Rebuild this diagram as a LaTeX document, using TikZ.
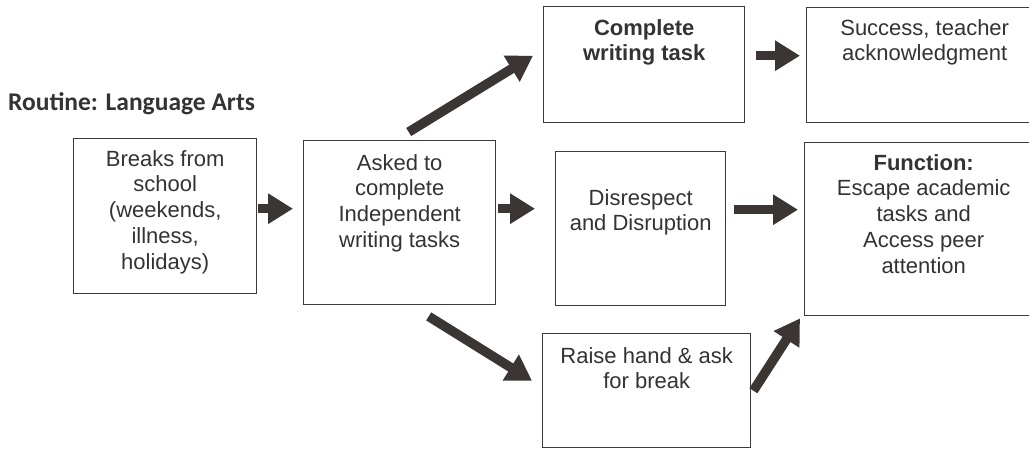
\documentclass[tikz,border=0pt]{standalone}
\usepackage{fontspec}
\setmainfont{Liberation Sans}
\newfontfamily\titlefont{Carlito}
\usetikzlibrary{arrows.meta,positioning}
\definecolor{ink}{HTML}{333333}
\definecolor{frame}{HTML}{3A3A3A}
\definecolor{arrowfill}{HTML}{3B3633}

\begin{document}
\begin{tikzpicture}[x=1pt,y=-1pt,
	box/.style 2 args={draw=frame, line width=1.4pt, minimum width=#1, minimum height=#2, inner sep=0pt, anchor=north west},
	txt/.style={text=ink, font=\fontsize{22}{25.8}\selectfont, align=center, anchor=north, inner sep=0pt},
	bigarrow/.style={draw=arrowfill, line width=9.5pt, -{Triangle[length=25pt,width=29pt]}}]
	\useasboundingbox[fill=white] (0,0) rectangle (1029,450);
	\node[anchor=base west, inner sep=0pt, text=ink, font=\titlefont\bfseries\fontsize{25.5}{30}\selectfont] (title) at (8,110) {Routine: Language Arts};
	% boxes
	\node[box={183pt}{155pt}] (breaks) at (73,138) {};
	\node[box={192pt}{164pt}] (asked) at (303,140) {};
	\node[box={201pt}{116pt}] (complete) at (543,6) {};
	\node[box={236pt}{115pt}] (success) at (806,7) {};
	\node[box={170pt}{154pt}] (disrupt) at (555,151) {};
	\node[box={238pt}{173pt}] (function) at (804,142) {};
	\node[box={208pt}{114pt}] (raise) at (542,333) {};
	% texts
	\node[txt] (breaks-t) at ([yshift=-12pt]breaks.north) {Breaks from\\school\\(weekends,\\illness,\\holidays)};
	\node[txt] (asked-t) at ([yshift=-14pt]asked.north) {Asked to\\complete\\Independent\\writing tasks};
	\node[txt, font=\bfseries\fontsize{22}{25.8}\selectfont] (complete-t) at ([yshift=-13pt]complete.north) {Complete\\writing task};
	\node[txt] (success-t) at ([yshift=-12pt]success.north) {Success, teacher\\acknowledgment};
	\node[txt] (disrupt-t) at ([yshift=-38pt]disrupt.north) {Disrespect\\and Disruption};
	\node[txt] (function-t) at ([yshift=-12pt]function.north) {\textbf{Function:}\\Escape academic\\tasks and\\Access peer\\attention};
	\node[txt] (raise-t) at ([yshift=-14pt]raise.north) {Raise hand \& ask\\for break};
	% arrows
	\draw[bigarrow] ([shift={(1,-7.5)}]breaks.east) -- ([shift={(-10,-14)}]asked.west);
	\draw[bigarrow] ([shift={(2,-14)}]asked.east) -- ([shift={(-20,-20)}]disrupt.west);
	\draw[bigarrow] ([shift={(9,-8)}]asked.north) -- ([shift={(-10,-9)}]complete.west);
	\draw[bigarrow] ([shift={(29,11)}]asked.south) -- ([shift={(-10,-10)}]raise.west);
	\draw[bigarrow] ([shift={(11,-9)}]complete.east) -- ([shift={(-6,-9.5)}]success.west);
	\draw[bigarrow] ([shift={(8,-19)}]disrupt.east) -- ([shift={(-6,-19.5)}]function.west);
	\draw[bigarrow] ([shift={(2,0)}]raise.east) -- ([shift={(-4,2)}]function.south west);
\end{tikzpicture}
\end{document}
